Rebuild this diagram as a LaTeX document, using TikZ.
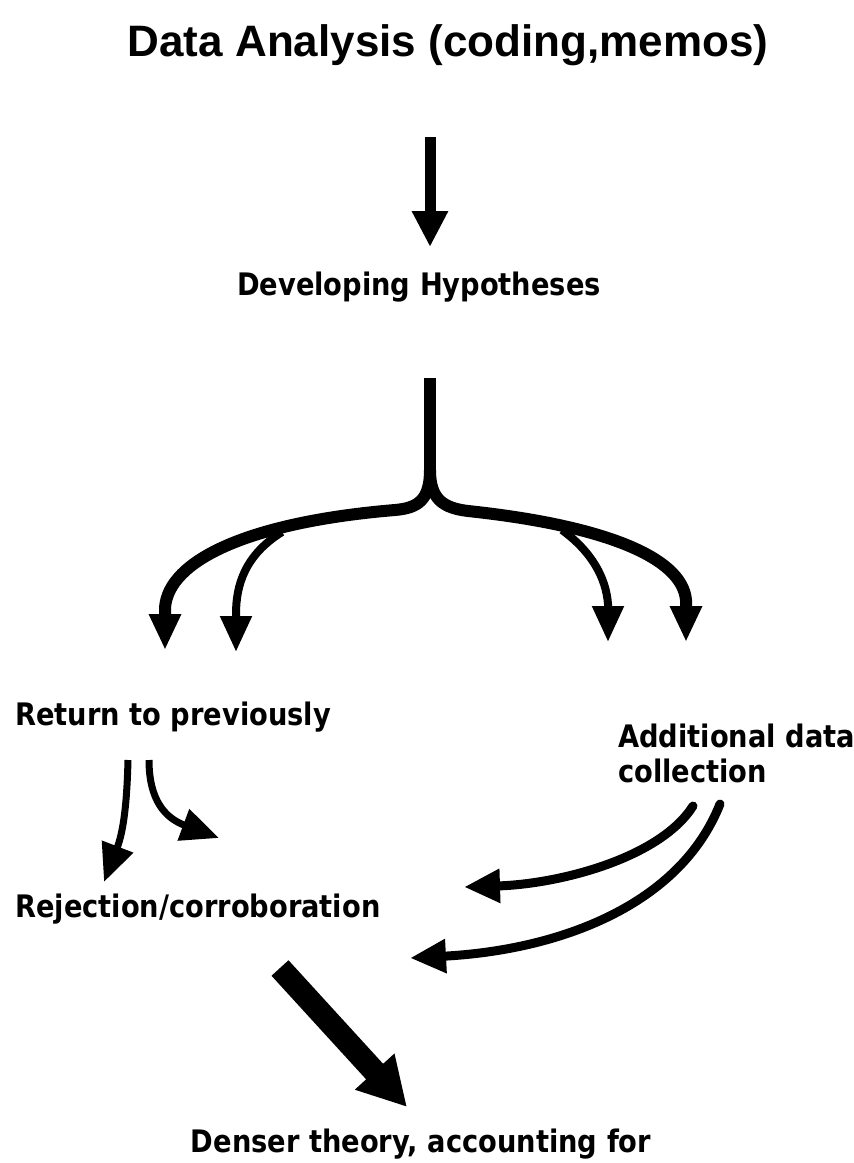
\documentclass[tikz,border=0pt]{standalone}
\usepackage{fontspec}
\setmainfont{Liberation Sans}
\newfontfamily\roundfont[FakeStretch=0.88]{DejaVu Sans}
\usetikzlibrary{arrows.meta}
\tikzset{
  title/.style={font=\fontsize{44}{47}\selectfont\bfseries, inner sep=0pt},
  lbl/.style={font=\roundfont\bfseries\fontsize{31}{34}\selectfont, inner sep=0pt},
  thick stroke/.style={line width=12pt},
  head/.style={-{Triangle[length=36pt,width=30pt]}},
  thin head/.style={line width=7pt, -{Triangle[length=38pt,width=32pt]}},
  big head/.style={line width=23pt, -{Triangle[length=48pt,width=50pt]}},
}
\begin{document}
\begin{tikzpicture}[x=1pt,y=-1pt]
\useasboundingbox (0,0) rectangle (854,1163);

% labels
\node[title] (ttl) at (448,45) {Data Analysis (coding,memos)};
\node[lbl, anchor=base] (hyp) at (419,295) {Developing Hypotheses};
\node[lbl, anchor=base west] (ret) at (15,725) {Return to previously};
\node[lbl, anchor=base west] (add) at (618,747) {Additional data};
\node[lbl, anchor=base west] (col) at (618,782) {collection};
\node[lbl, anchor=base west] (rej) at (15,917) {Rejection/corroboration};
\node[lbl, anchor=base] (den) at (421,1152) {Denser theory, accounting for};

% end points of the connectors
\coordinate (a0) at (430,137);
\coordinate (a1) at (430,247);
\coordinate (s0) at (430,378);
\coordinate (s1) at (430,470);
\coordinate (L1) at (165,650);
\coordinate (L2) at (236,652);
\coordinate (R2) at (608,642);
\coordinate (R1) at (686,642);
\coordinate (r0) at (128,760);
\coordinate (r1) at (104,882);
\coordinate (r2) at (149,760);
\coordinate (r3) at (219,838);
\coordinate (d0) at (693,806);
\coordinate (d1) at (464,887);
\coordinate (d2) at (720,804);
\coordinate (d3) at (410,958);
\coordinate (b0) at (280,968);
\coordinate (b1) at (407,1107);

% arrow from the title
\draw[line width=11pt, -{Triangle[length=36pt,width=34pt]}] (a0) -- (a1);

% stem and its four branches
\draw[thick stroke] (s0) -- (s1);
\draw[thick stroke, head] (s1) .. controls (430,500) and (418,508) .. (395,510)
   .. controls (250,522) and (168,560) .. (165,608) -- (L1);
\draw[line width=8pt, head] (282,532) .. controls (245,555) and (236,585) .. (236,614) -- (L2);
\draw[thick stroke, head] (s1) .. controls (430,500) and (444,508) .. (468,511)
   .. controls (600,525) and (682,556) .. (686,600) -- (R1);
\draw[line width=8pt, head] (562,530) .. controls (592,552) and (606,578) .. (608,604) -- (R2);

% arrows between the lower labels
\draw[thin head] (r0) .. controls (127,800) and (124,830) .. (r1);
\draw[thin head] (r2) .. controls (149,800) and (165,818) .. (r3);
\draw[line width=9pt, line cap=round, -{Triangle[length=36pt,width=32pt]}] (d0) .. controls (660,858) and (560,884) .. (d1);
\draw[line width=9pt, line cap=round, -{Triangle[length=36pt,width=32pt]}] (d2) .. controls (680,905) and (560,950) .. (d3);
\draw[big head] (b0) -- (b1);
\end{tikzpicture}
\end{document}
